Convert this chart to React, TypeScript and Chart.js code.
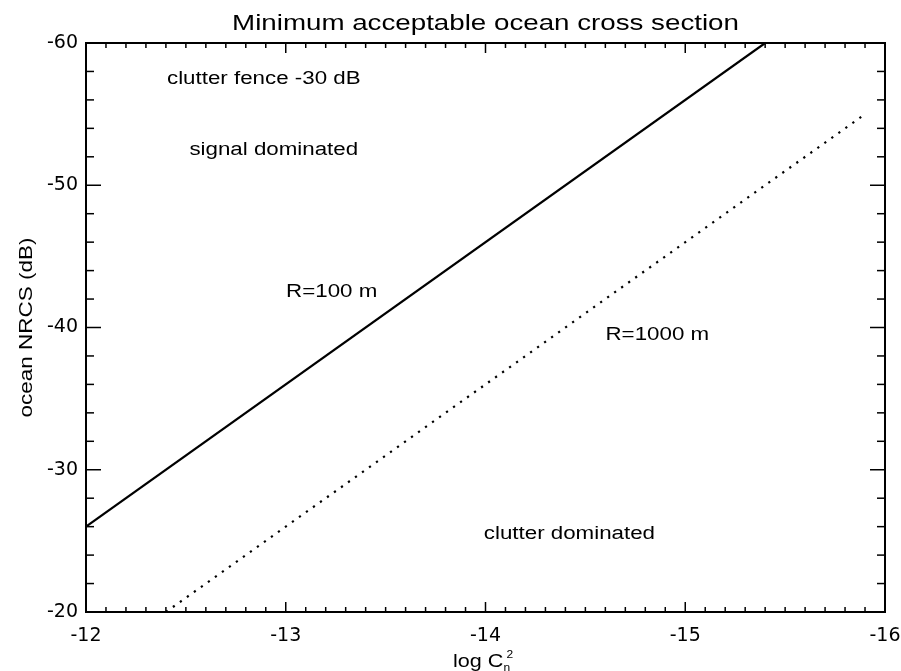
import React, { useEffect, useRef } from "react";
import { Chart, registerables } from "chart.js";

Chart.register(...registerables);

// R = 100 m line (solid) and R = 1000 m line (dotted): log Cn^2 vs ocean NRCS (dB)
const r100LogCn2 = [-12, -15.4];
const r100Nrcs = [-26, -60];
const r1000LogCn2 = [-12.4, -15.9];
const r1000Nrcs = [-20, -55];

const xTicks = [-12, -13, -14, -15, -16];
const yTicks = [-60, -50, -40, -30, -20];
const xMinorStep = 0.1;
const yMinorStep = 2;

const noteTexts = ["clutter fence -30 dB", "signal dominated", "R=100 m", "R=1000 m", "clutter dominated"];
const noteLogCn2 = [-12.89, -12.94, -13.23, -14.86, -14.42];
const noteNrcs = [-57.5, -52.5, -42.5, -39.5, -25.5];

const titleText = "Minimum acceptable ocean cross section";
const yTitleText = "ocean NRCS (dB)";
const xTitleMain = "log C";
const xTitleSub = "n";
const xTitleSup = "2";

const SANS = '"Liberation Sans", Arial, sans-serif';

function wideText(
  ctx: CanvasRenderingContext2D,
  text: string,
  x: number,
  y: number,
  size: number,
  sx: number,
  align: CanvasTextAlign,
  baseline: CanvasTextBaseline,
  rot = 0
) {
  ctx.save();
  ctx.translate(x, y);
  if (rot) ctx.rotate(rot);
  ctx.scale(sx, 1);
  ctx.font = `${size}px ${SANS}`;
  ctx.fillStyle = "#000";
  ctx.textAlign = align;
  ctx.textBaseline = baseline;
  ctx.fillText(text, 0, 0);
  ctx.restore();
}

const decoPlugin = {
  id: "deco",
  afterDraw(chart: any) {
    const { ctx, chartArea: a, scales } = chart;
    const xs = scales.x;
    const ys = scales.y;
    ctx.save();
    ctx.strokeStyle = "#000";
    ctx.lineCap = "butt";
    const seg = (x1: number, y1: number, x2: number, y2: number) => {
      ctx.beginPath();
      ctx.moveTo(x1, y1);
      ctx.lineTo(x2, y2);
      ctx.stroke();
    };
    // minor + major ticks, inward, on all four sides
    ctx.lineWidth = 1.5;
    const xMin = Math.min(...xTicks);
    const xMax = Math.max(...xTicks);
    const nx = Math.round((xMax - xMin) / xMinorStep);
    for (let i = 0; i <= nx; i++) {
      const v = xMax - i * xMinorStep;
      const major = xTicks.some((t) => Math.abs(t - v) < 1e-6);
      const len = major ? 10 : 5;
      const px = xs.getPixelForValue(v);
      seg(px, a.bottom, px, a.bottom - len);
      seg(px, a.top, px, a.top + len);
    }
    const yMin = Math.min(...yTicks);
    const yMax = Math.max(...yTicks);
    const ny = Math.round((yMax - yMin) / yMinorStep);
    for (let i = 0; i <= ny; i++) {
      const v = yMin + i * yMinorStep;
      const major = yTicks.some((t) => Math.abs(t - v) < 1e-6);
      const len = major ? 15 : 8;
      const py = ys.getPixelForValue(v);
      seg(a.left, py, a.left + len, py);
      seg(a.right, py, a.right - len, py);
    }
    // frame
    ctx.lineWidth = 2;
    ctx.strokeRect(a.left, a.top, a.right - a.left, a.bottom - a.top);
    ctx.restore();

    // annotations
    for (let i = 0; i < noteTexts.length; i++) {
      wideText(
        ctx,
        noteTexts[i],
        xs.getPixelForValue(noteLogCn2[i]),
        ys.getPixelForValue(noteNrcs[i]),
        18,
        1.24,
        "center",
        "middle"
      );
    }
    // title
    wideText(ctx, titleText, (a.left + a.right) / 2, 30, 22, 1.26, "center", "alphabetic");
    // y title
    wideText(ctx, yTitleText, 32, (a.top + a.bottom) / 2, 18, 1.25, "center", "alphabetic", -Math.PI / 2);
    // x title: log Cn^2
    ctx.save();
    const sx = 1.2;
    ctx.font = `18px ${SANS}`;
    const wMain = ctx.measureText(xTitleMain).width * sx;
    ctx.font = `10px ${SANS}`;
    const wSmall = ctx.measureText(xTitleSub).width * sx;
    ctx.restore();
    const total = wMain + wSmall;
    const x0 = (a.left + a.right) / 2 - 4 - total / 2;
    const base = 667;
    wideText(ctx, xTitleMain, x0, base, 18, sx, "left", "alphabetic");
    wideText(ctx, xTitleSub, x0 + wMain, base + 4, 10, sx, "left", "alphabetic");
    wideText(ctx, xTitleSup, x0 + wMain + 3, base - 9, 10, sx, "left", "alphabetic");
  },
};

export default function App() {
  const ref = useRef<HTMLCanvasElement | null>(null);

  useEffect(() => {
    const canvas = ref.current;
    if (!canvas) return;
    const tickFont = { family: '"DejaVu Sans", sans-serif', size: 19 };
    const chart = new Chart(canvas, {
      type: "scatter",
      data: {
        datasets: [
          {
            label: "R=100 m",
            data: r100LogCn2.map((x, i) => ({ x, y: r100Nrcs[i] })),
            showLine: true,
            borderColor: "#000",
            backgroundColor: "#000",
            borderWidth: 2.2,
            pointRadius: 0,
            pointHoverRadius: 0,
            fill: false,
          },
          {
            label: "R=1000 m",
            data: r1000LogCn2.map((x, i) => ({ x, y: r1000Nrcs[i] })),
            showLine: true,
            borderColor: "#000",
            backgroundColor: "#000",
            borderWidth: 2.2,
            borderDash: [2.2, 6.4],
            borderCapStyle: "butt",
            pointRadius: 0,
            pointHoverRadius: 0,
            fill: false,
          },
        ],
      },
      options: {
        responsive: false,
        animation: false,
        events: [],
        layout: { padding: { top: 43, right: 16, left: 0, bottom: 0 } },
        plugins: {
          legend: { display: false },
          tooltip: { enabled: false },
          title: { display: false },
        },
        scales: {
          x: {
            type: "linear",
            position: "bottom",
            min: -16,
            max: -12,
            reverse: true,
            grid: { display: false, drawTicks: false },
            border: { display: false },
            ticks: {
              color: "#000",
              font: tickFont,
              padding: 13,
              maxRotation: 0,
              autoSkip: false,
              callback: (v: any) => String(v),
            },
            afterBuildTicks: (s: any) => {
              s.ticks = xTicks.map((v) => ({ value: v }));
            },
            afterFit: (s: any) => {
              s.height = 59;
              s.paddingLeft = 0;
              s.paddingRight = 0;
            },
          },
          y: {
            type: "linear",
            position: "left",
            min: -60,
            max: -20,
            reverse: true,
            grid: { display: false, drawTicks: false },
            border: { display: false },
            ticks: {
              color: "#000",
              font: tickFont,
              padding: 8,
              autoSkip: false,
              callback: (v: any) => String(v),
            },
            afterBuildTicks: (s: any) => {
              s.ticks = yTicks.map((v) => ({ value: v }));
            },
            afterFit: (s: any) => {
              s.width = 86;
              s.paddingTop = 0;
              s.paddingBottom = 0;
            },
          },
        },
      },
      plugins: [decoPlugin],
    } as any);
    return () => chart.destroy();
  }, []);

  return (
    <div style={{ position: "absolute", left: 0, top: 0, width: 901, height: 671, background: "#fff" }}>
      <canvas ref={ref} width={901} height={671} style={{ display: "block", width: 901, height: 671 }} />
    </div>
  );
}
